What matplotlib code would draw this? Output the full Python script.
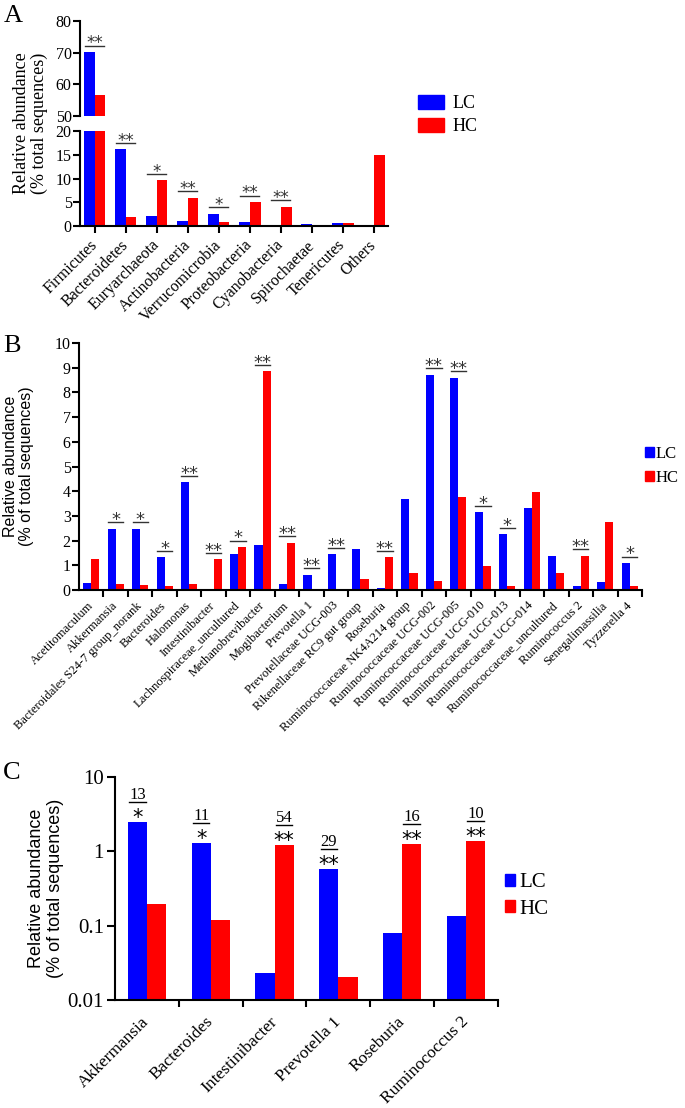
import numpy as np
import matplotlib
matplotlib.use("Agg")
import matplotlib.pyplot as plt
from matplotlib.patches import Patch
from matplotlib.transforms import offset_copy

plt.rcParams['font.family'] = ['Liberation Serif', 'DejaVu Serif']
plt.rcParams['axes.linewidth'] = 1.5
plt.rcParams['xtick.major.width'] = 1.5
plt.rcParams['ytick.major.width'] = 1.5
plt.rcParams['xtick.minor.width'] = 1.5

BLUE = '#0000ff'
RED = '#ff0000'
SANS = ['Liberation Sans', 'DejaVu Sans']
STAR = ['DejaVu Sans']

# panel A: phylum level
phyla = ['Firmicutes', 'Bacteroidetes', 'Euryarchaeota', 'Actinobacteria',
         'Verrucomicrobia', 'Proteobacteria', 'Cyanobacteria', 'Spirochaetae',
         'Tenericutes', 'Others']
phyla_lc = [70.3, 16.2, 2.1, 1.0, 2.6, 0.8, 0.3, 0.5, 0.6, 0.3]
phyla_hc = [56.7, 1.9, 9.6, 6.0, 0.9, 5.1, 4.1, 0.3, 0.6, 14.9]
phyla_sig = ['**', '**', '*', '**', '*', '**', '**', '', '', '']

# panel B: genus level
genera = ['Acetitomaculum', 'Akkermansia', 'Bacteroidales S24-7 group_norank',
          'Bacteroides', 'Halomonas', 'Intestinibacter',
          'Lachnospiraceae_uncultured', 'Methanobrevibacter', 'Mogibacterium',
          'Prevotella 1', 'Prevotellaceae UCG-003', 'Rikenellaceae RC9 gut group',
          'Roseburia', 'Ruminococcaceae NK4A214 group', 'Ruminococcaceae UCG-002',
          'Ruminococcaceae UCG-005', 'Ruminococcaceae UCG-010',
          'Ruminococcaceae UCG-013', 'Ruminococcaceae UCG-014',
          'Ruminococcaceae_uncultured', 'Ruminococcus 2', 'Senegalimassilia',
          'Tyzzerella 4']
genera_lc = [0.28, 2.49, 2.49, 1.33, 4.36, 0.03, 1.44, 1.84, 0.26, 0.62, 1.45,
             1.67, 0.10, 3.69, 8.72, 8.60, 3.14, 2.25, 3.32, 1.36, 0.15, 0.33, 1.10]
genera_hc = [1.27, 0.24, 0.19, 0.16, 0.24, 1.24, 1.75, 8.85, 1.92, 0.02, 0.01,
             0.46, 1.32, 0.70, 0.36, 3.78, 0.98, 0.15, 3.96, 0.70, 1.39, 2.77, 0.16]
genera_sig = ['', '*', '*', '*', '**', '**', '*', '**', '**', '**', '**', '',
              '**', '', '**', '**', '*', '*', '', '', '**', '', '*']

# panel C: selected genera (log scale)
sel_genera = ['Akkermansia', 'Bacteroides', 'Intestinibacter', 'Prevotella 1',
              'Roseburia', 'Ruminococcus 2']
sel_lc = [2.46, 1.30, 0.023, 0.58, 0.08, 0.133]
sel_hc = [0.195, 0.12, 1.2, 0.0205, 1.27, 1.36]
sel_fold = ['13', '11', '54', '29', '16', '10']
sel_sig = ['*', '*', '**', '**', '**', '**']

fig = plt.figure(figsize=(6.85, 11.08), dpi=100)


def sig_mark(ax, xc, top, half, text, size):
    tr_line = offset_copy(ax.transData, fig=fig, y=4.5, units='points')
    ax.plot([xc - half, xc + half], [top, top], color='#333333', lw=1.0,
            transform=tr_line, clip_on=False)
    tr_txt = offset_copy(ax.transData, fig=fig, y=2.5, units='points')
    ax.text(xc, top, text, ha='center', va='baseline', fontsize=size,
            family=STAR, color='#333333', transform=tr_txt, clip_on=False)


# ---------- A ----------
axA1 = fig.add_axes([0.1168, 0.8953, 0.4496, 0.0857])
axA2 = fig.add_axes([0.1168, 0.7960, 0.4496, 0.0857])
xa = np.arange(len(phyla))
wa = 0.34
for ax in (axA1, axA2):
    ax.bar(xa - wa / 2, phyla_lc, wa, color=BLUE, label='LC')
    ax.bar(xa + wa / 2, phyla_hc, wa, color=RED, label='HC')
    ax.set_xlim(-0.48, 9.45)
    ax.spines['top'].set_visible(False)
    ax.spines['right'].set_visible(False)
    ax.tick_params(direction='out', length=5, labelsize=11.5, pad=1)

axA1.set_ylim(50, 80)
axA1.set_yticks([50, 60, 70, 80])
axA1.spines['bottom'].set_visible(False)
axA1.set_xticks([])
axA2.set_ylim(0, 20)
axA2.set_yticks([0, 5, 10, 15, 20])
axA2.set_xticks(xa)
axA2.set_xticklabels(phyla, rotation=45, ha='right', va='center',
                     rotation_mode='anchor', fontsize=11.5)
axA2.tick_params(axis='x', pad=7)

for i, s in enumerate(phyla_sig):
    if not s:
        continue
    top = max(phyla_lc[i], phyla_hc[i])
    ax = axA1 if top > 50 else axA2
    sig_mark(ax, xa[i], top, wa * 0.9, s, 12)

fig.text(0.044, 0.889, 'Relative abundance\n(% total sequences)', rotation=90,
         ha='center', va='center', fontsize=13, linespacing=1.05)
fig.text(0.006, 1 - 22 / 1108, 'A', fontsize=19, va='baseline')
axA2.legend(handles=[Patch(color=BLUE), Patch(color=RED)], labels=['LC', 'HC'],
            loc='center left', bbox_to_anchor=(402 / 685, 1 - 115 / 1108),
            bbox_transform=fig.transFigure, frameon=False, fontsize=13,
            handlelength=1.4, handleheight=0.8, handletextpad=0.5,
            labelspacing=0.3)

# ---------- B ----------
axB = fig.add_axes([0.1153, 0.4675, 0.8219, 0.2229])
xb = np.arange(len(genera))
wb = 0.33
axB.bar(xb - wb / 2, genera_lc, wb, color=BLUE)
axB.bar(xb + wb / 2, genera_hc, wb, color=RED)
axB.set_xlim(-0.5, len(genera) - 0.5)
axB.set_ylim(0, 10)
axB.set_yticks(range(0, 11))
axB.spines['top'].set_visible(False)
axB.spines['right'].set_visible(False)
axB.set_xticks(xb)
axB.set_xticks(np.arange(0.5, len(genera)), minor=True)
axB.set_xticklabels(genera, rotation=45, ha='right', va='center',
                    rotation_mode='anchor', fontsize=9)
axB.tick_params(axis='x', which='major', length=0, pad=10)
axB.tick_params(axis='x', which='minor', length=5, direction='out')
axB.tick_params(axis='y', length=5, direction='out', labelsize=11.5, pad=1)

for i, s in enumerate(genera_sig):
    if not s:
        continue
    top = max(genera_lc[i], genera_hc[i])
    sig_mark(axB, xb[i], top, wb * 0.95, s, 13)

fig.text(0.027, 0.579, 'Relative abundance\n(% of total sequences)', rotation=90,
         ha='center', va='center', fontsize=11.5, family=SANS, linespacing=1.1)
fig.text(0.004, 1 - 352 / 1108, 'B', fontsize=19, va='baseline')
axB.legend(handles=[Patch(color=BLUE), Patch(color=RED)], labels=['LC', 'HC'],
           loc='center left', bbox_to_anchor=(645 / 685, 1 - 466 / 1108),
           bbox_transform=fig.transFigure, frameon=False, fontsize=12,
           handlelength=0.55, handleheight=0.55, handletextpad=0.1,
           labelspacing=0.45, borderpad=0, borderaxespad=0)

# ---------- C ----------
axC = fig.add_axes([0.1679, 0.0975, 0.559, 0.2013])
axC.set_yscale('log')
xc = np.arange(len(sel_genera))
wc = 0.3
axC.bar(xc - wc / 2, sel_lc, wc, color=BLUE)
axC.bar(xc + wc / 2, sel_hc, wc, color=RED)
axC.set_xlim(-0.5, len(sel_genera) - 0.5)
axC.set_ylim(0.01, 10)
axC.set_yticks([0.01, 0.1, 1, 10])
axC.set_yticklabels(['0.01', '0.1', '1', '10'])
axC.yaxis.set_minor_locator(matplotlib.ticker.NullLocator())
axC.spines['top'].set_visible(False)
axC.spines['right'].set_visible(False)
axC.set_xticks(xc)
axC.set_xticks(np.arange(0.5, len(sel_genera)), minor=True)
axC.set_xticklabels(sel_genera, rotation=45, ha='right', va='center',
                    rotation_mode='anchor', fontsize=12.5)
axC.tick_params(axis='x', which='major', length=0, pad=14)
axC.tick_params(axis='x', which='minor', length=5, direction='out')
axC.tick_params(axis='y', length=6, direction='out', labelsize=15, pad=2)

for i in range(len(sel_genera)):
    if sel_lc[i] >= sel_hc[i]:
        xpos, top = xc[i] - wc / 2, sel_lc[i]
    else:
        xpos, top = xc[i] + wc / 2, sel_hc[i]
    tr_star = offset_copy(axC.transData, fig=fig, y=-1.5, units='points')
    axC.text(xpos, top, sel_sig[i], ha='center', va='baseline', fontsize=15,
             family=STAR, transform=tr_star, clip_on=False)
    tr_ul = offset_copy(axC.transData, fig=fig, y=14.4, units='points')
    axC.plot([xpos - 0.13, xpos + 0.13], [top, top], color='black', lw=1.0,
             transform=tr_ul, clip_on=False)
    tr_num = offset_copy(axC.transData, fig=fig, y=16.5, units='points')
    axC.text(xpos, top, sel_fold[i], ha='center', va='baseline', fontsize=12,
             transform=tr_num, clip_on=False)

fig.text(0.067, 0.1986, 'Relative abundance\n(% of total sequences)', rotation=90,
         ha='center', va='center', fontsize=13, family=SANS, linespacing=1.1)
fig.text(0.004, 1 - 779 / 1108, 'C', fontsize=19, va='baseline')
axC.legend(handles=[Patch(color=BLUE), Patch(color=RED)], labels=['LC', 'HC'],
           loc='center left', bbox_to_anchor=(505 / 685, 1 - 896 / 1108),
           bbox_transform=fig.transFigure, frameon=False, fontsize=15,
           handlelength=0.5, handleheight=0.5, handletextpad=0.2,
           labelspacing=0.35, borderpad=0, borderaxespad=0)

fig.savefig('out.png', dpi=100)
